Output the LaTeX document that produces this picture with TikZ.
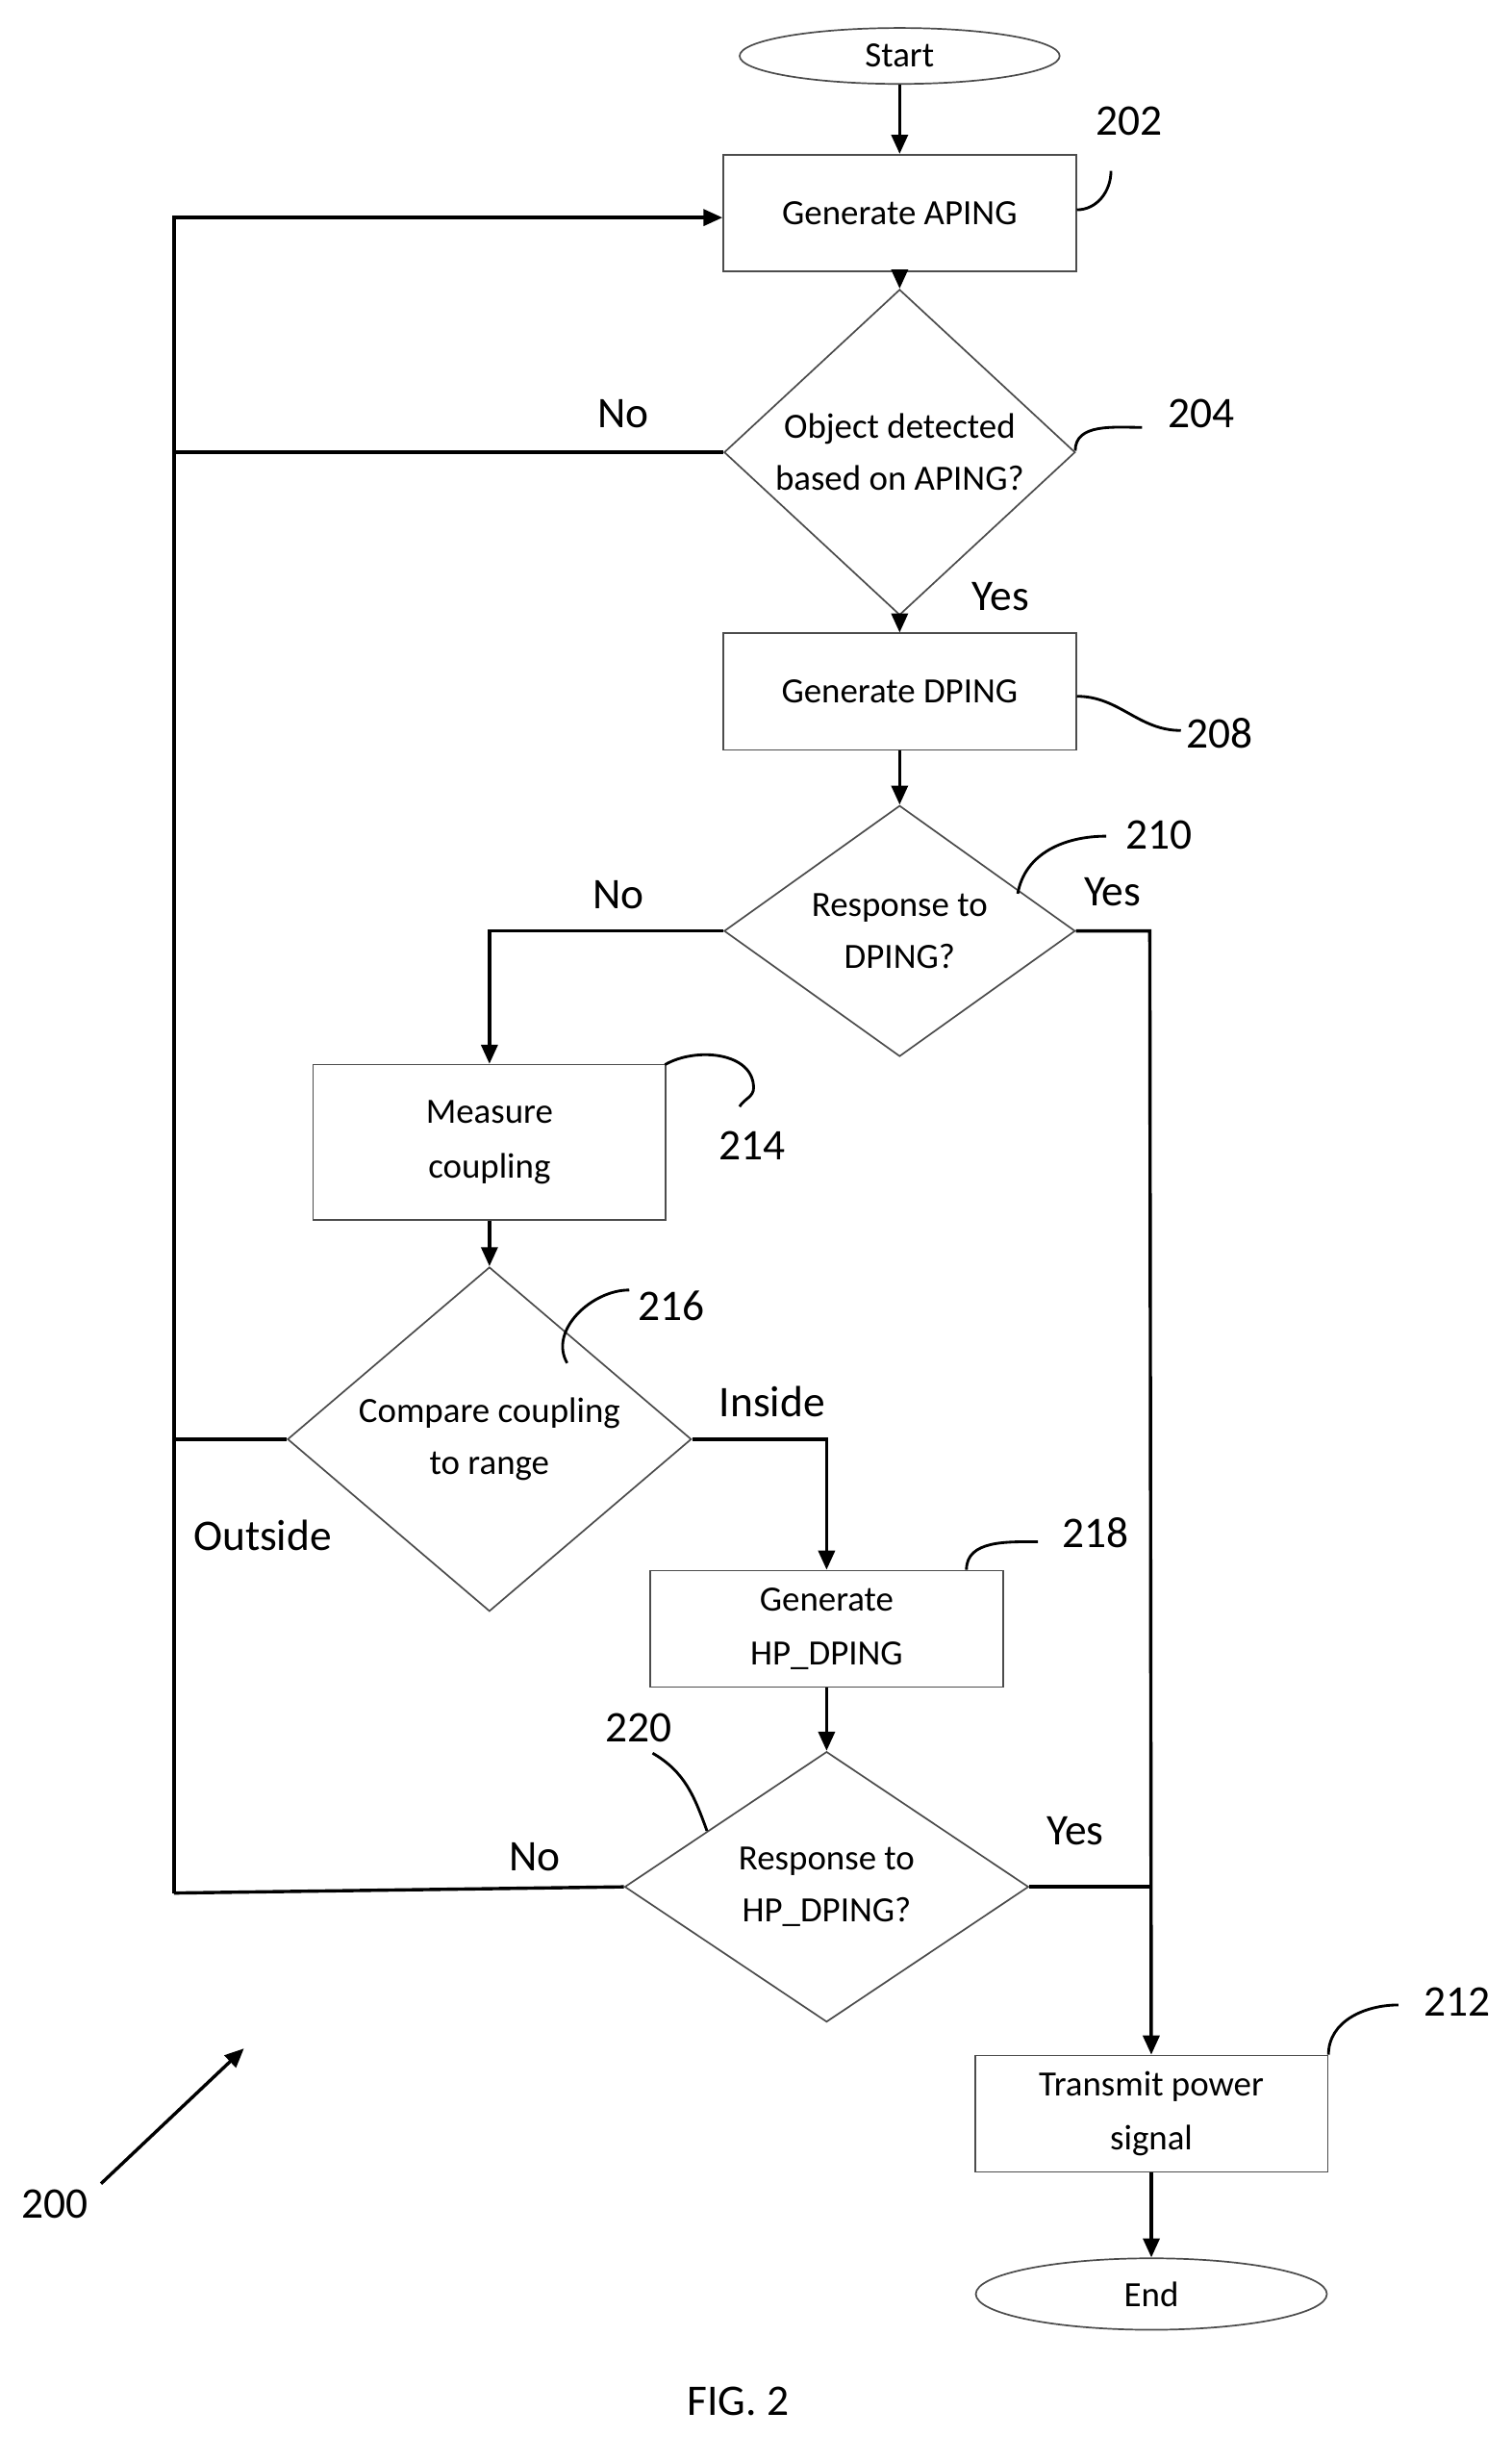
\documentclass[tikz,border=0pt]{standalone}
\usepackage{fontspec}
\setmainfont{Carlito}
\usetikzlibrary{shapes.geometric,arrows.meta}

\begin{document}
\begin{tikzpicture}[x=0.02cm,y=-0.02cm,
  box/.style={draw=black!70,line width=0.6pt,inner sep=0,minimum width=4.54cm,minimum height=1.5cm,align=center,font=\fontsize{13}{20}\selectfont},
  dec/.style={draw=black!70,line width=0.6pt,diamond,inner sep=0,align=center,font=\fontsize{13}{19}\selectfont},
  term/.style={draw=black!70,line width=0.6pt,ellipse,inner sep=0,font=\fontsize{13}{15}\selectfont},
  flow/.style={line width=1.2pt,-{Triangle[length=7pt,width=6pt]}},
  line/.style={line width=1.2pt},
  lbl/.style={font=\fontsize{16}{18}\selectfont},
  num/.style={font=\fontsize{16}{18}\selectfont},
  hook/.style={line width=1pt}]
\useasboundingbox (0,0) rectangle (973,1568);

\node[term,minimum width=4.12cm,minimum height=0.72cm] (start) at (579,36) {Start};
\node[box] (aping) at (579,137) {Generate APING};
\node[dec,minimum width=4.52cm,minimum height=3cm] (obj) at (579,291) {Object detected\\based on APING?};
\node[box] (dping) at (579,445) {Generate DPING};
\node[dec,minimum width=4.52cm,minimum height=3cm] (resp) at (579,599) {Response to\\DPING?};
\node[box,minimum height=2cm] (meas) at (315,735) {Measure\\coupling};
\node[dec,minimum width=5.2cm,minimum height=3cm] (comp) at (315,926) {Compare coupling\\to range};
\node[box] (hp) at (532,1048) {Generate\\HP\_DPING};
\node[dec,minimum width=5.2cm,minimum height=3.48cm] (hpresp) at (532,1214) {Response to\\HP\_DPING?};
\node[box] (tx) at (741,1360) {Transmit power\\signal};
\node[term,minimum width=4.52cm,minimum height=0.92cm] (end) at (741,1476) {End};

\coordinate (l1) at (112,140);
\coordinate (l2) at (112,1218);
\coordinate (c1) at (315,599);
\coordinate (c2) at (740,599);
\coordinate (c3) at (532,926);
\coordinate (c4) at (740,1214);

\draw[flow] (start) -- (aping);
\draw[flow] (aping) -- (obj);
\draw[flow] (obj) -- (dping);
\draw[flow] (dping) -- (resp);
\draw[flow] (resp.west) -- (c1) -- (meas);
\draw[flow] (resp.east) -- (c2) -- (tx);
\draw[flow] (meas) -- (comp);
\draw[flow] (comp.east) -- (c3) -- (hp);
\draw[flow] (hp) -- (hpresp);
\draw[line] (hpresp.east) -- (c4);
\draw[flow] (tx) -- (end);
\draw[line] (obj.west) -- (112,291);
\draw[line] (comp.west) -- (112,926);
\draw[line] (hpresp.west) -- (l2);
\draw[flow] (l2) -- (l1) -- (aping.west|-l1);

\node[lbl] at (401,266) {No};
\node[lbl] at (644,384) {Yes};
\node[lbl] at (398,576) {No};
\node[lbl] at (716,574) {Yes};
\node[lbl] at (497,902) {Inside};
\node[lbl] at (169,988) {Outside};
\node[lbl] at (344,1195) {No};
\node[lbl] at (692,1178) {Yes};

% reference numbers
\draw[hook] (693,135) to[out=0,in=-90] (715,110);
\node[num] (n202) at (727,78) {202};
\draw[hook] (692,290) to[out=90,in=180] (735,275);
\node[num] (n204) at (773,266) {204};
\draw[hook] (693,448) to[out=0,in=180] (760,470);
\node[num] (n208) at (785,472) {208};
\draw[hook] (655,575) to[out=80,in=180] (712,538);
\node[num] (n210) at (746,537) {210};
\draw[hook] (428,685) to[out=30,in=90] (485,700) to[out=-90,in=60] (476,712);
\node[num] (n214) at (484,737) {214};
\draw[hook] (365,877) to[out=120,in=180] (405,830);
\node[num] (n216) at (432,840) {216};
\draw[hook] (622,1010) to[out=90,in=180] (668,992);
\node[num] (n218) at (705,986) {218};
\draw[hook] (455,1178) to[out=110,in=-30] (420,1128);
\node[num] (n220) at (411,1112) {220};
\draw[hook] (855,1322) to[out=90,in=180] (900,1290);
\node[num] (n212) at (938,1288) {212};
\node[num] (n200) at (35,1418) {200};
\draw[flow] (65,1405) -- (157,1318);
\node[lbl] (fig) at (475,1545) {FIG. 2};
\end{tikzpicture}
\end{document}
